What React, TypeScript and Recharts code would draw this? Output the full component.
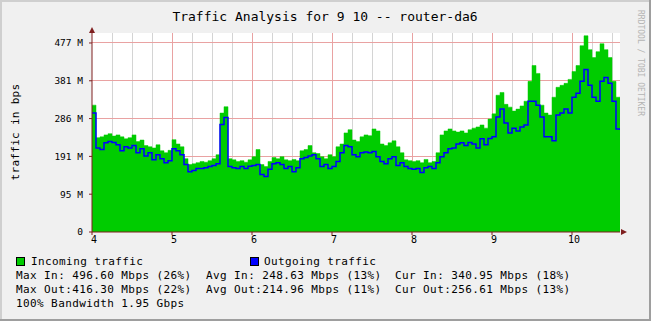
import React from "react";
import {
  ComposedChart,
  Area,
  Line,
  XAxis,
  YAxis,
  CartesianGrid,
} from "recharts";

// time axis (hours), one sample every 3 minutes starting at 4:00
const START_HOUR = 4;
const STEP_HOURS = 0.05;

// Incoming traffic, Mbps
const incoming = [
  320, 238, 240, 245, 248, 242, 245, 240, 235, 238,
  245, 228, 232, 218, 215, 212, 220, 205, 200, 206,
  233, 222, 215, 185, 170, 172, 175, 178, 176, 180,
  185, 195, 300, 316, 185, 182, 178, 180, 176, 182,
  190, 208, 170, 165, 178, 188, 185, 190, 182, 180,
  183, 180, 205, 208, 218, 200, 198, 190, 185, 195,
  190, 215, 222, 250, 258, 232, 228, 240, 245, 243,
  260, 255, 222, 218, 225, 230, 215, 200, 182, 180,
  178, 180, 175, 183, 175, 178, 200, 245, 255, 260,
  255, 252, 255, 250, 258, 262, 265, 270, 262, 285,
  298, 345, 352, 322, 315, 305, 310, 318, 330, 380,
  420, 400, 320, 300, 295, 340, 365, 370, 375, 385,
  405, 420, 470, 495, 460, 440, 455, 475, 460, 440,
  380, 340, 341,
];

// Outgoing traffic, Mbps
const outgoing = [
  300, 212, 208, 225, 228, 226, 220, 205, 215, 212,
  218, 200, 210, 192, 200, 182, 195, 185, 175, 180,
  210, 205, 195, 170, 152, 155, 160, 160, 162, 165,
  168, 172, 271, 289, 165, 162, 160, 165, 160, 166,
  168, 170, 145, 140, 158, 172, 175, 170, 160, 165,
  152, 162, 185, 188, 192, 195, 185, 165, 170, 160,
  165, 178, 200, 218, 215, 195, 190, 200, 202, 200,
  203, 190, 178, 172, 185, 190, 168, 175, 165, 160,
  158, 160, 150, 162, 165, 160, 175, 190, 200, 210,
  212, 222, 225, 218, 226, 222, 212, 235, 220, 236,
  240, 290, 310, 275, 250, 262, 255, 265, 270, 330,
  330, 320, 290, 240, 240, 230, 295, 300, 310, 300,
  340, 350, 380, 410, 370, 340, 330, 380, 390, 375,
  330, 260, 257,
];

const X_DOMAIN: [number, number] = [4, 10.6];
const Y_DOMAIN: [number, number] = [0, 502];
const hourTicks = [4, 5, 6, 7, 8, 9, 10];
const minorTicks = [
  4.25, 4.5, 4.75, 5.25, 5.5, 5.75, 6.25, 6.5, 6.75, 7.25, 7.5,
  7.75, 8.25, 8.5, 8.75, 9.25, 9.5, 9.75, 10.25, 10.5,
];
const yTicks = [0, 95.37, 190.73, 286.1, 381.47, 476.84];
const yTickLabels = ["0", "95 M", "191 M", "286 M", "381 M", "477 M"];

const title = "Traffic Analysis for 9 10 -- router-da6";
const yLabel = "traffic in bps";
const sideLabel = "RRDTOOL / TOBI OETIKER";
const seriesNames = ["Incoming traffic", "Outgoing traffic"];
const statsMax = ["Max In: 496.60 Mbps (26%)", "Max Out:416.30 Mbps (22%)"];
const statsAvg = ["Avg In: 248.63 Mbps (13%)", "Avg Out:214.96 Mbps (11%)"];
const statsCur = ["Cur In: 340.95 Mbps (18%)", "Cur Out:256.61 Mbps (13%)"];
const bandwidthNote = "100% Bandwidth 1.95 Gbps";

const data = incoming.map((v, i) => ({
  t: +(START_HOUR + i * STEP_HOURS).toFixed(3),
  inBps: v,
  outBps: outgoing[i],
}));

const MONO = "'DejaVu Sans Mono', monospace";
const ARROW = "#7f1f1f";
const MINOR = "#d4d4d4";
const MAJOR = "#e9a2a2";
const MARGIN = { top: 33, right: 31, bottom: 69, left: 0 };

// snap a scaled coordinate to the pixel centre so 1px grid lines stay crisp
const snap = (v: number) => Math.floor(v) + 0.5;

function xPos(props: any, v: number): number {
  const s = props?.xAxis?.scale;
  if (typeof s === "function") {
    const r = s(v);
    if (Number.isFinite(r)) return snap(r);
  }
  const o = props.offset;
  return snap(o.left + ((v - X_DOMAIN[0]) / (X_DOMAIN[1] - X_DOMAIN[0])) * o.width);
}
function yPos(props: any, v: number): number {
  const s = props?.yAxis?.scale;
  if (typeof s === "function") {
    const r = s(v);
    if (Number.isFinite(r)) return snap(r);
  }
  const o = props.offset;
  return snap(
    o.top + o.height - ((v - Y_DOMAIN[0]) / (Y_DOMAIN[1] - Y_DOMAIN[0])) * o.height
  );
}

function GridChart({ children }: { children: React.ReactNode }) {
  return (
    <ComposedChart width={651} height={321} data={data} margin={MARGIN}>
      <XAxis
        dataKey="t"
        type="number"
        domain={X_DOMAIN}
        ticks={hourTicks}
        allowDataOverflow
        height={20}
        axisLine={false}
        tickLine={false}
        tick={false}
      />
      <YAxis
        type="number"
        domain={Y_DOMAIN}
        ticks={yTicks}
        allowDataOverflow
        width={92}
        axisLine={false}
        tickLine={false}
        tick={false}
      />
      {children}
    </ComposedChart>
  );
}

function DataLayer() {
  return (
    <ComposedChart width={651} height={321} data={data} margin={MARGIN}>
      <XAxis
        dataKey="t"
        type="number"
        domain={X_DOMAIN}
        ticks={hourTicks}
        allowDataOverflow
        height={20}
        tickSize={3}
        tickMargin={1}
        axisLine={{ stroke: ARROW }}
        tickLine={{ stroke: ARROW }}
        tick={{ fontFamily: MONO, fontSize: 10, fill: "#000", dx: 2 }}
        tickFormatter={(v: number) => String(v)}
      />
      <YAxis
        type="number"
        domain={Y_DOMAIN}
        ticks={yTicks}
        allowDataOverflow
        width={92}
        tickSize={3}
        tickMargin={6}
        axisLine={{ stroke: ARROW }}
        tickLine={{ stroke: ARROW }}
        tick={{ fontFamily: MONO, fontSize: 9.5, fill: "#000" }}
        tickFormatter={(_v: number, i: number) => yTickLabels[i]}
      />
      <Area
        dataKey="inBps"
        type="stepAfter"
        fill="#00cc00"
        fillOpacity={1}
        stroke="#00cc00"
        strokeWidth={0.5}
        isAnimationActive={false}
        dot={false}
        activeDot={false}
      />
      <Line
        dataKey="outBps"
        type="stepAfter"
        stroke="#0000ff"
        strokeWidth={1.5}
        dot={false}
        activeDot={false}
        isAnimationActive={false}
      />
    </ComposedChart>
  );
}

export default function App() {
  const legendText: React.CSSProperties = {
    fontFamily: MONO,
    fontSize: 11,
    letterSpacing: 0.4,
    whiteSpace: "pre",
  };
  const layer: React.CSSProperties = { position: "absolute", left: 0, top: 0 };
  return (
    <div
      style={{
        position: "absolute",
        left: 0,
        top: 0,
        width: 651,
        height: 321,
        background: "#f0f0f0",
        overflow: "hidden",
      }}
    >
      <svg width={651} height={321} style={layer}>
        <rect x={0} y={0} width={651} height={321} fill="#f0f0f0" />
        <rect x={0} y={0} width={651} height={2} fill="#cfcfcf" />
        <rect x={0} y={0} width={2} height={321} fill="#cfcfcf" />
        <rect x={649} y={0} width={2} height={321} fill="#9e9e9e" />
        <rect x={0} y={319} width={651} height={2} fill="#9e9e9e" />
      </svg>
      <div style={layer}>
        <GridChart>
          <CartesianGrid
            horizontal={false}
            fill="#ffffff"
            stroke={MINOR}
            verticalCoordinatesGenerator={(p: any) =>
              minorTicks.map((t) => xPos(p, t))
            }
          />
        </GridChart>
      </div>
      <div style={layer}>
        <GridChart>
          <CartesianGrid
            stroke={MAJOR}
            verticalCoordinatesGenerator={(p: any) =>
              hourTicks.slice(1).map((t) => xPos(p, t))
            }
            horizontalCoordinatesGenerator={(p: any) =>
              yTicks.slice(1).map((v) => yPos(p, v))
            }
          />
        </GridChart>
      </div>
      <div style={layer}>
        <DataLayer />
      </div>
      <svg width={651} height={321} style={{ ...layer, pointerEvents: "none" }}>
        <text
          x={325}
          y={21}
          textAnchor="middle"
          style={{ fontFamily: MONO, fontSize: 13, whiteSpace: "pre" }}
        >
          {title}
        </text>
        <text
          transform="translate(19,132) rotate(-90)"
          textAnchor="middle"
          style={{ fontFamily: MONO, fontSize: 11, letterSpacing: 0.3 }}
        >
          {yLabel}
        </text>
        <text
          transform="translate(638,10) rotate(90)"
          textAnchor="start"
          fill="#b4b4b4"
          style={{ fontFamily: MONO, fontSize: 8 }}
        >
          {sideLabel}
        </text>
        <polygon points="89,33 95,33 92,27" fill={ARROW} />
        <polygon points="621,229 621,235 627,232" fill={ARROW} />
        <rect x={16.5} y={257.5} width={8} height={8} fill="#00cc00" stroke="#000" />
        <text x={31} y={265} style={legendText}>
          {seriesNames[0]}
        </text>
        <rect x={250.5} y={257.5} width={8} height={8} fill="#0000ff" stroke="#000" />
        <text x={264} y={265} style={legendText}>
          {seriesNames[1]}
        </text>
        {statsMax.map((s, i) => (
          <text key={"m" + i} x={16} y={279 + i * 14} style={legendText}>
            {s}
          </text>
        ))}
        {statsAvg.map((s, i) => (
          <text key={"a" + i} x={206} y={279 + i * 14} style={legendText}>
            {s}
          </text>
        ))}
        {statsCur.map((s, i) => (
          <text key={"c" + i} x={395} y={279 + i * 14} style={legendText}>
            {s}
          </text>
        ))}
        <text x={16} y={307} style={legendText}>
          {bandwidthNote}
        </text>
      </svg>
    </div>
  );
}
